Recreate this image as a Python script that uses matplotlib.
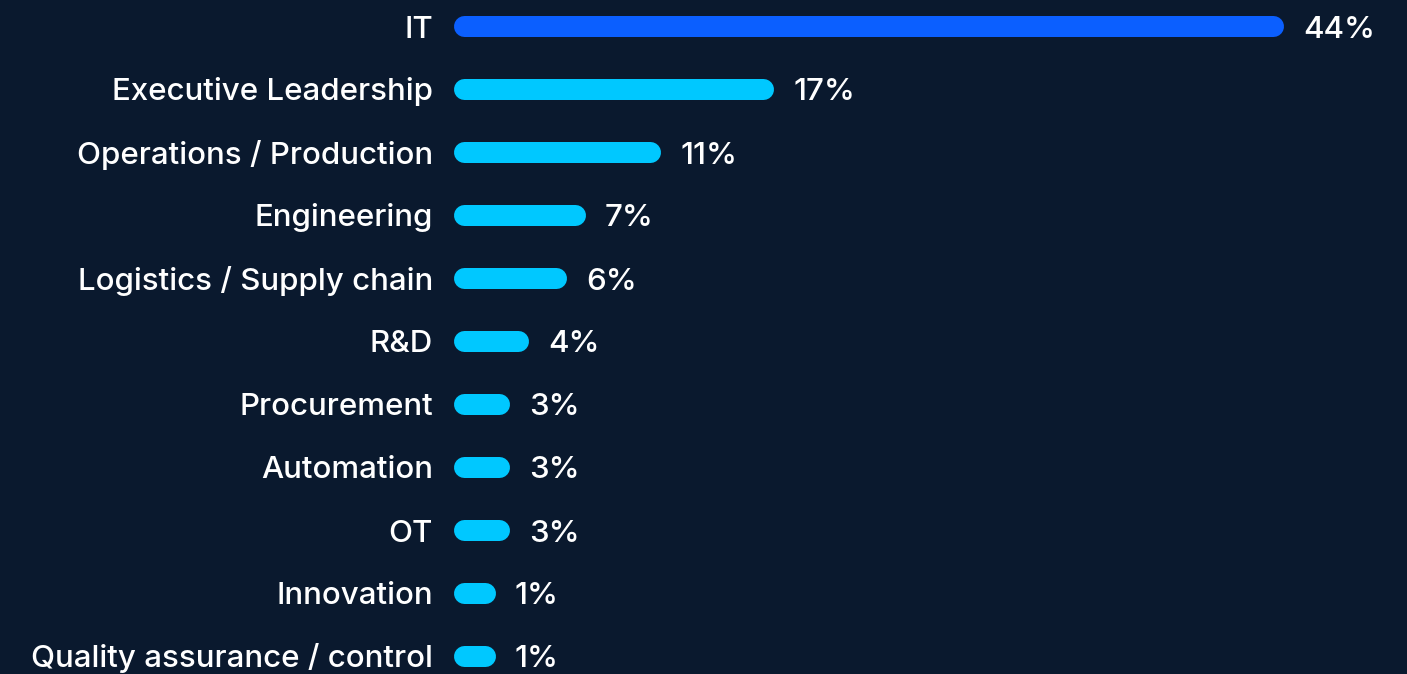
import matplotlib
matplotlib.use("Agg")
import matplotlib.pyplot as plt

categories = ["IT", "Executive Leadership", "Operations / Production", "Engineering",
              "Logistics / Supply chain", "R&D", "Procurement", "Automation", "OT",
              "Innovation", "Quality assurance / control"]
values = [44, 17, 11, 7, 6, 4, 3, 3, 3, 1, 1]
value_labels = ["44%", "17%", "11%", "7%", "6%", "4%", "3%", "3%", "3%", "1%", "1%"]

BG = "#0A192E"
CYAN = "#00C8FF"
BLUE = "#0B5FFF"

W, H, DPI = 1407, 674, 100
fig = plt.figure(figsize=(W / DPI, H / DPI), dpi=DPI, facecolor=BG)

px_per_unit = 830 / 44.0
x0_px = 453
ax = fig.add_axes([x0_px / W, 0, 1 - x0_px / W, 1])
ax.set_facecolor(BG)
ax.set_xlim(0, (W - x0_px) / px_per_unit)
row0, step = 26, 63
ax.set_ylim((H - row0) / step, -row0 / step)
ax.axis("off")

bar_h_px = 21
lw_pt = bar_h_px * 72 / DPI
cap = (bar_h_px / 2) / px_per_unit
min_len = 42 / px_per_unit

font = ["Inter", "DejaVu Sans"]
fs = 22.5
base_off = -11.5 * 72 / DPI
for i, (cat, v, lab) in enumerate(zip(categories, values, value_labels)):
    color = BLUE if i == 0 else CYAN
    end = max(v, min_len)
    ax.plot([cap, end - cap], [i, i], color=color, lw=lw_pt,
            solid_capstyle="round", zorder=3)
    ax.annotate(cat, xy=(0, i), xytext=(-20 * 72 / DPI, base_off), textcoords="offset points",
                ha="right", va="baseline", color="white", fontsize=fs,
                family=font, fontweight="medium", annotation_clip=False)
    ax.annotate(lab, xy=(end, i), xytext=(20 * 72 / DPI, base_off), textcoords="offset points",
                ha="left", va="baseline", color="white", fontsize=fs,
                family=font, fontweight="medium", annotation_clip=False)

fig.savefig("out.png", dpi=DPI, facecolor=BG)
